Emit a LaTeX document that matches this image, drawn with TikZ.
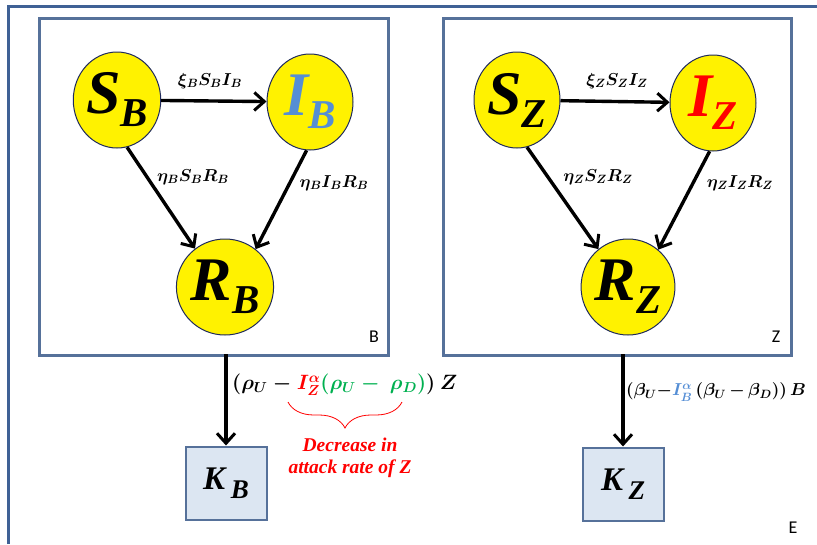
\documentclass[tikz,border=0pt]{standalone}
\usepackage{fontspec}
\setmainfont{Liberation Serif}
\newfontfamily\labfont{Carlito}
\usepackage{amsmath}
\usetikzlibrary{shapes.geometric,arrows.meta,decorations.pathreplacing}
\definecolor{framecol}{HTML}{3F6195}
\definecolor{boxcol}{HTML}{56719A}
\definecolor{kfill}{HTML}{DCE6F2}
\definecolor{navy}{HTML}{1F2A5C}
\definecolor{ibcol}{HTML}{558ED5}
\definecolor{grn}{HTML}{00B050}
\newcommand{\compart}[3]{\textcolor{#3}{{\fontsize{62}{62}\selectfont\bfseries\itshape #1}\raisebox{-13pt}{\fontsize{41}{41}\selectfont\bfseries\itshape #2}}}
\newcommand{\kpart}[2]{{\fontsize{33}{33}\selectfont\bfseries\itshape #1\,}\raisebox{-9pt}{\fontsize{27}{27}\selectfont\bfseries\itshape #2}}
\begin{document}
\begin{tikzpicture}[x=1pt,y=-1pt,
  comp/.style={ellipse,draw=navy,line width=1pt,fill=yellow,minimum width=86pt,minimum height=96pt,inner sep=0pt},
  model/.style={draw=boxcol,line width=2.6pt},
  kbox/.style={draw=boxcol,line width=2pt,fill=kfill,minimum width=81pt,minimum height=73pt,inner sep=0pt},
  flow/.style={line width=3.4pt,-{Straight Barb[length=10pt,width=18pt,line width=3pt]}},
  rate/.style={font=\fontsize{18}{18}\selectfont\boldmath},
  tag/.style={font=\labfont\fontsize{18}{18}\selectfont}]
\useasboundingbox (0,0) rectangle (817,544);
% outer frame
\draw[framecol,line width=3pt] (8,544) -- (8,6) -- (817,6);
% model boxes
\node[model,minimum width=349pt,minimum height=337pt,anchor=north west] (boxB) at (38,17) {};
\node[model,minimum width=348pt,minimum height=337pt,anchor=north west] (boxZ) at (442,17) {};
\node[tag] (tB) at (374,337) {B};
\node[tag] (tZ) at (776,337) {Z};
\node[tag] (tE) at (793,528) {E};
% B compartments
\node[comp] (SB) at (117,100) {\compart{S}{B}{black}};
\node[comp] (IB) at (310,102) {\compart{I}{B}{ibcol}};
\node[comp] (RB) at (225,287) {\compart{R}{B}{black}};
\draw[flow] (SB) -- (IB);
\draw[flow] (SB.-78) -- (RB.128);
\draw[flow] (IB.-94) -- (RB.51);
\node[rate] (lB1) at (210,81) {$\xi_B S_B I_B$};
\node[rate] (lB2) at (193,177) {$\eta_B S_B R_B$};
\node[rate] (lB3) at (334,183) {$\eta_B I_B R_B$};
% Z compartments
\node[comp] (SZ) at (517,100) {\compart{S}{Z}{black}};
\node[comp] (IZ) at (713,103) {\compart{I}{Z}{red}};
\node[comp] (RZ) at (628,287) {\compart{R}{Z}{black}};
\draw[flow] (SZ) -- (IZ);
\draw[flow] (SZ.-78) -- (RZ.128);
\draw[flow] (IZ.-94) -- (RZ.51);
\node[rate] (lZ1) at (617,81) {$\xi_Z S_Z I_Z$};
\node[rate] (lZ2) at (598,177) {$\eta_Z S_Z R_Z$};
\node[rate] (lZ3) at (740,183) {$\eta_Z I_Z R_Z$};
% predation boxes
\node[kbox] (KB) at (226,483) {\kpart{K}{B}};
\node[kbox] (KZ) at (623,484) {\kpart{K}{Z}};
\coordinate (oB) at (226,354);
\coordinate (oZ) at (623,354);
\draw[flow] (oB) -- (KB.north);
\draw[flow] (oZ) -- (KZ.north);
\node[anchor=west,font=\fontsize{19.3}{19.3}\selectfont\boldmath,inner sep=0pt] (eqB) at (232,385)
  {$(\rho_U - \textcolor{red}{I_Z^{\alpha}}\textcolor{grn}{(\rho_U -\ \rho_D)})\ Z$};
\node[anchor=west,font=\fontsize{17.5}{17.5}\selectfont\boldmath,inner sep=0pt] (eqZ) at (626,392)
  {$(\beta_U{-}\textcolor{ibcol}{I_B^{\alpha}}\,(\beta_U{\,-\,}\beta_D))\,B$};
\coordinate (brL) at (288,402);
\coordinate (brR) at (402,402);
\draw[red,line width=0.8pt,decorate,decoration={brace,amplitude=26pt,mirror}] (brL) -- (brR);
\node[red,font=\fontsize{19.5}{19.5}\selectfont\bfseries\itshape] (dec1) at (350,445) {Decrease in};
\node[red,font=\fontsize{19.5}{19.5}\selectfont\bfseries\itshape] (dec2) at (350,469) {attack rate of Z};
\end{tikzpicture}
\end{document}
